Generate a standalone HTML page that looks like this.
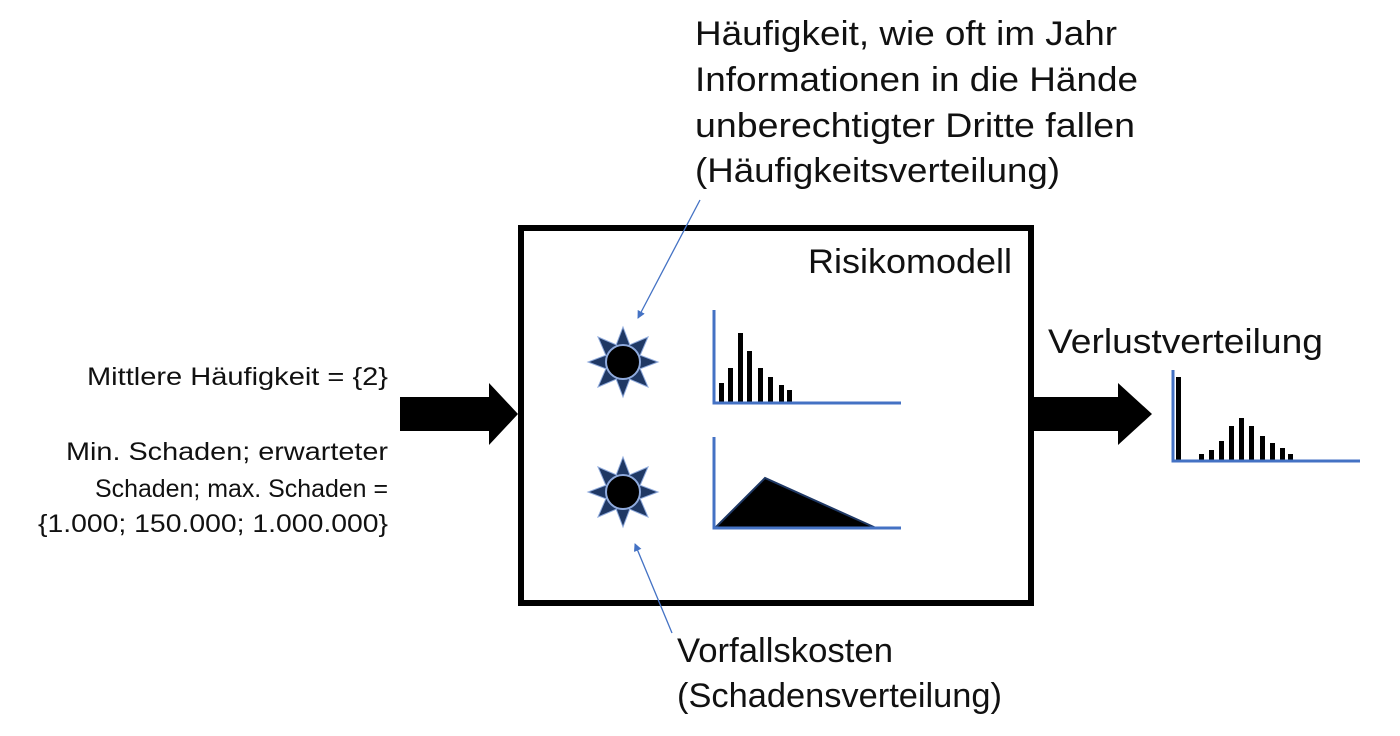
<!DOCTYPE html>
<html><head><meta charset="utf-8"><style>html,body{margin:0;padding:0;background:#fff;}svg{display:block}</style></head>
<body>
<svg width="1400" height="736" viewBox="0 0 1400 736" xmlns="http://www.w3.org/2000/svg" font-family="'Liberation Sans', sans-serif">
<defs>
<marker id="ah" markerWidth="8" markerHeight="8" refX="7" refY="4" orient="auto" markerUnits="userSpaceOnUse"><path d="M0,0 L8,4 L0,8 z" fill="#4472c4"/></marker>
<g id="sun">
<polygon points="0,-35 8,-14 0,0 -8,-14" /><polygon points="0,35 8,14 0,0 -8,14"/>
<polygon points="-35,0 -14,8 0,0 -14,-8"/><polygon points="35,0 14,8 0,0 14,-8"/>
<polygon points="-25,-25 -4,-16 0,0 -16,-4"/><polygon points="25,-25 16,-4 0,0 4,-16"/>
<polygon points="-25,25 -16,4 0,0 -4,16"/><polygon points="25,25 4,16 0,0 16,4"/>
</g>
</defs>
<g font-size="34" fill="#111">
<text x="695" y="45" textLength="422" lengthAdjust="spacingAndGlyphs">Häufigkeit, wie oft im Jahr</text>
<text x="695" y="91" textLength="443" lengthAdjust="spacingAndGlyphs">Informationen in die Hände</text>
<text x="695" y="137" textLength="440" lengthAdjust="spacingAndGlyphs">unberechtigter Dritte fallen</text>
<text x="695" y="182" textLength="365" lengthAdjust="spacingAndGlyphs">(Häufigkeitsverteilung)</text>
<text x="808" y="273" textLength="204" lengthAdjust="spacingAndGlyphs">Risikomodell</text>
<text x="1048" y="353" textLength="275" lengthAdjust="spacingAndGlyphs">Verlustverteilung</text>
<text x="677" y="662" textLength="216" lengthAdjust="spacingAndGlyphs">Vorfallskosten</text>
<text x="677" y="707" textLength="325" lengthAdjust="spacingAndGlyphs">(Schadensverteilung)</text>
</g>
<g font-size="25" fill="#111">
<text x="87" y="385" textLength="301" lengthAdjust="spacingAndGlyphs">Mittlere Häufigkeit = {2}</text>
<text x="66" y="460" textLength="322" lengthAdjust="spacingAndGlyphs">Min. Schaden; erwarteter</text>
<text x="95" y="497" textLength="293" lengthAdjust="spacingAndGlyphs">Schaden; max. Schaden =</text>
<text x="38" y="532" textLength="350" lengthAdjust="spacingAndGlyphs">{1.000; 150.000; 1.000.000}</text>
</g>
<rect x="521" y="228" width="510" height="375" fill="none" stroke="#000" stroke-width="6"/>
<polygon points="400,397 489,397 489,383 518,414 489,445 489,431 400,431" fill="#000"/>
<polygon points="1034,397 1118,397 1118,383 1152,414 1118,445 1118,431 1034,431" fill="#000"/>
<g fill="#1f3864" stroke="#8faadc" stroke-width="1">
<use href="#sun" x="623" y="362"/><use href="#sun" x="623" y="492"/>
</g>
<circle cx="623" cy="362" r="17" fill="#000" stroke="#8faadc" stroke-width="2"/>
<circle cx="623" cy="492" r="17" fill="#000" stroke="#8faadc" stroke-width="2"/>
<g fill="#000">
<rect x="719" y="383" width="5" height="19"/><rect x="728" y="368" width="5" height="34"/>
<rect x="738" y="333" width="5" height="69"/><rect x="747" y="351" width="5" height="51"/>
<rect x="758" y="368" width="5" height="34"/><rect x="768" y="377" width="5" height="25"/>
<rect x="779" y="385" width="5" height="17"/><rect x="787" y="390" width="5" height="12"/>
</g>
<path d="M714,310 V403 H901" fill="none" stroke="#4472c4" stroke-width="3"/>
<polygon points="715,528 765,478 876,528" fill="#000" stroke="#1f3864" stroke-width="2"/>
<path d="M714,437 V528 H901" fill="none" stroke="#4472c4" stroke-width="3"/>
<g fill="#000">
<rect x="1176" y="377" width="5" height="84"/>
<rect x="1199" y="454" width="5" height="7"/><rect x="1209" y="450" width="5" height="11"/>
<rect x="1219" y="441" width="5" height="20"/><rect x="1229" y="426" width="5" height="35"/>
<rect x="1239" y="418" width="5" height="43"/><rect x="1249" y="426" width="5" height="35"/>
<rect x="1260" y="436" width="5" height="25"/><rect x="1270" y="443" width="5" height="18"/>
<rect x="1280" y="448" width="5" height="13"/><rect x="1288" y="454" width="5" height="7"/>
</g>
<path d="M1173,370 V461 H1360" fill="none" stroke="#4472c4" stroke-width="3"/>
<line x1="700" y1="200" x2="638" y2="318" stroke="#4472c4" stroke-width="1.3" marker-end="url(#ah)"/>
<line x1="672" y1="633" x2="635" y2="544" stroke="#4472c4" stroke-width="1.3" marker-end="url(#ah)"/>
</svg>
</body></html>
